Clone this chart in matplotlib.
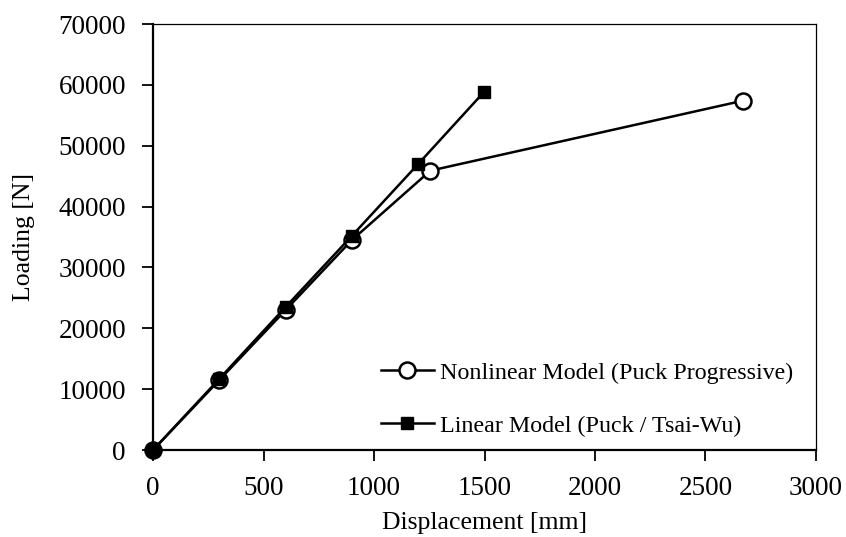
import matplotlib
matplotlib.use("Agg")
import matplotlib.pyplot as plt

nonlin_x = [0, 300, 600, 900, 1255, 2670]
nonlin_y = [0, 11500, 23000, 34500, 45900, 57400]
lin_x = [0, 300, 600, 900, 1200, 1497]
lin_y = [0, 11700, 23500, 35200, 47000, 58800]
x_ticks = [0, 500, 1000, 1500, 2000, 2500, 3000]
y_ticks = [0, 10000, 20000, 30000, 40000, 50000, 60000, 70000]

plt.rcParams['font.family'] = ['Liberation Serif', 'DejaVu Serif']
fs_tick = 19.5
fs_lab = 18.5
fs_leg = 17.3

fig = plt.figure(figsize=(8.46, 5.37), dpi=100)
ax = fig.add_axes([0.1809, 0.162, 0.7836, 0.7933])

ax.plot(nonlin_x, nonlin_y, color='black', lw=1.8, marker='o', markersize=11.5,
        markerfacecolor='white', markeredgecolor='black', markeredgewidth=1.8,
        label='Nonlinear Model (Puck Progressive)', zorder=3)
ax.plot(lin_x, lin_y, color='black', lw=1.8, marker='s', markersize=8,
        markerfacecolor='black', markeredgecolor='black',
        label='Linear Model (Puck / Tsai-Wu)', zorder=4)
# origin point appears as a filled circle in the reference
ax.plot(nonlin_x[:1], nonlin_y[:1], linestyle='none', marker='o', markersize=11.5,
        markerfacecolor='black', markeredgecolor='black', zorder=5, clip_on=False)

ax.set_xlim(0, 3000)
ax.set_ylim(0, 70000)
ax.set_xticks(x_ticks)
ax.set_yticks(y_ticks)
ax.tick_params(axis='x', direction='out', length=8, width=1.3, labelsize=fs_tick, pad=10.5)
ax.tick_params(axis='y', direction='out', length=8, width=1.3, labelsize=fs_tick, pad=11.5)
for s in ['left', 'bottom']:
    ax.spines[s].set_linewidth(1.6)
for s in ['top', 'right']:
    ax.spines[s].set_linewidth(0.9)
for line in ax.get_lines():
    line.set_clip_on(False)
ax.set_xlabel('Displacement [mm]', fontsize=fs_lab, labelpad=8)
ax.set_ylabel('Loading [N]', fontsize=fs_lab, labelpad=16.5)

leg = ax.legend(loc='lower right', bbox_to_anchor=(0.998, -0.02), frameon=False,
                fontsize=fs_leg, handlelength=2.2, labelspacing=1.3, handletextpad=0.25)

fig.savefig('out.png', dpi=100)
